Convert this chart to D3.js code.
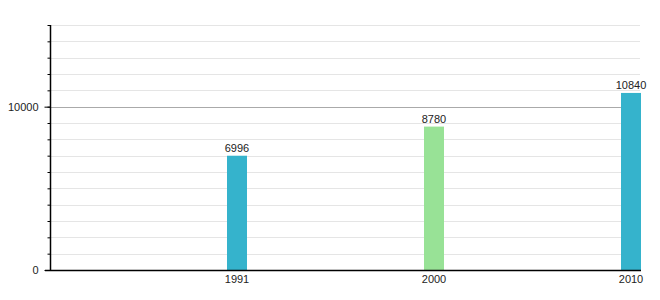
<!DOCTYPE html>
<html>
<head>
<meta charset="utf-8">
<script src="https://cdn.jsdelivr.net/npm/d3@7"></script>
<style>
  body { margin: 0; background: #fff; }
  text { font-family: "Liberation Sans", Arial, sans-serif; font-size: 11px; fill: #222; }
</style>
</head>
<body>
<div id="chart"></div>
<script>
const years = ["1991", "2000", "2010"];
const values = [6996, 8780, 10840];
const barColors = ["#35b3cc", "#98e296", "#35b3cc"];
const labelTicks = [0, 10000];
const minorStep = 1000;
const yMax = 15000;

const cfg = { width: 660, height: 300, left: 50, right: 640, top: 25, bottom: 270, barWidth: 20 };

const svg = d3.select("#chart").append("svg")
    .attr("width", cfg.width)
    .attr("height", cfg.height);

const x = d3.scaleBand()
    .domain(years)
    .range([cfg.left, cfg.right + 1])
    .padding(0);

const y = d3.scaleLinear()
    .domain([0, yMax])
    .range([cfg.bottom, cfg.top]);

const minor = d3.range(minorStep, yMax + 1, minorStep);

// grid lines
svg.append("g").selectAll("line")
    .data(minor)
    .join("line")
    .attr("x1", cfg.left)
    .attr("x2", cfg.right)
    .attr("y1", d => Math.round(y(d)) + 0.5)
    .attr("y2", d => Math.round(y(d)) + 0.5)
    .attr("stroke", d => labelTicks.includes(d) ? "#aaaaaa" : "#e5e5e5")
    .attr("stroke-width", 1);

// bars
const barX = d => x(d) + x.bandwidth() - cfg.barWidth;
svg.append("g").selectAll("rect")
    .data(years)
    .join("rect")
    .attr("x", d => barX(d))
    .attr("y", (d, i) => y(values[i]))
    .attr("width", cfg.barWidth)
    .attr("height", (d, i) => y(0) - y(values[i]))
    .attr("fill", (d, i) => barColors[i]);

// value labels
svg.append("g").selectAll("text")
    .data(years)
    .join("text")
    .attr("x", d => barX(d) + cfg.barWidth / 2)
    .attr("y", (d, i) => y(values[i]) - 4)
    .attr("text-anchor", "middle")
    .text((d, i) => values[i]);

// y axis: minor ticks
const yAxis = svg.append("g")
    .attr("transform", "translate(" + (cfg.left + 0.5) + ",0)");
yAxis.call(d3.axisLeft(y).tickValues(minor).tickSize(3).tickFormat(""))
    .call(g => g.select(".domain").remove());
// labelled ticks
const yMajor = svg.append("g")
    .attr("transform", "translate(" + (cfg.left + 0.5) + ",0)")
    .call(d3.axisLeft(y).tickValues(labelTicks).tickSize(6).tickPadding(6).tickFormat(d3.format("d")));
yMajor.select(".domain").attr("d", "M0," + cfg.top + "V" + cfg.bottom)
    .attr("stroke", "#000").attr("stroke-width", 1.5);
yMajor.selectAll("text").style("font-family", null).style("font-size", null).attr("fill", "#222");
yMajor.attr("font-family", null).attr("font-size", null);
svg.selectAll(".tick line").attr("stroke", "#000");

// x axis
const xAxis = svg.append("g")
    .attr("transform", "translate(0," + (cfg.bottom + 0.5) + ")")
    .call(d3.axisBottom(x).tickSize(0).tickPadding(5));
xAxis.attr("font-family", null).attr("font-size", null);
xAxis.select(".domain").attr("d", "M" + (cfg.left - 5) + ",0H" + (cfg.right + 1))
    .attr("stroke", "#000").attr("stroke-width", 1.5);
xAxis.selectAll(".tick")
    .attr("transform", d => "translate(" + (barX(d) + cfg.barWidth / 2) + ",0)");
xAxis.selectAll(".tick text").attr("fill", "#222");
</script>
</body>
</html>
